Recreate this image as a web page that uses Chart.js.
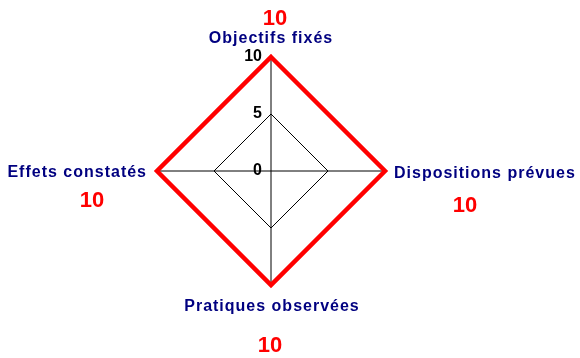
<!DOCTYPE html>
<html>
<head>
<meta charset="utf-8">
<script src="https://cdn.jsdelivr.net/npm/chart.js@4"></script>
<style>
  html, body { margin: 0; padding: 0; background: #fff; }
</style>
</head>
<body>
<canvas id="radar" width="580" height="358"></canvas>
<script>
  const categories = ['Objectifs fixés', 'Dispositions prévues', 'Pratiques observées', 'Effets constatés'];
  const values = [10, 10, 10, 10];
  const tickValues = [0, 5, 10];

  // label / value offsets from each outer vertex
  const labelPos = [
    { dx: 0, dy: -14, align: 'center', vdx: 4, vdy: -32 },
    { dx: 9, dy: 7, align: 'left', vdx: 80, vdy: 41 },
    { dx: 1, dy: 26, align: 'center', vdx: -1, vdy: 67 },
    { dx: -10, dy: 6, align: 'right', vdx: -65, vdy: 36 }
  ];

  const labelsPlugin = {
    id: 'radarLabels',
    afterDraw(chart) {
      const scale = chart.scales.r;
      const ctx = chart.ctx;
      ctx.save();
      // tick labels, left of the vertical axis
      ctx.font = 'bold 16px "Liberation Sans", Arial, sans-serif';
      ctx.fillStyle = '#000';
      ctx.textAlign = 'right';
      ctx.textBaseline = 'middle';
      tickValues.forEach(v => {
        const p = scale.getPointPositionForValue(0, v);
        ctx.fillText(String(v), p.x - 9, p.y);
      });
      ctx.textBaseline = 'alphabetic';
      categories.forEach((name, i) => {
        const p = scale.getPointPositionForValue(i, scale.max);
        const o = labelPos[i];
        ctx.font = 'bold 16px "Liberation Sans", Arial, sans-serif';
        ctx.letterSpacing = '1px';
        ctx.fillStyle = '#000080';
        ctx.textAlign = o.align;
        ctx.fillText(name, p.x + o.dx, p.y + o.dy);
        ctx.letterSpacing = '0px';
        ctx.font = 'bold 22px "Liberation Sans", Arial, sans-serif';
        ctx.fillStyle = '#ff0000';
        ctx.textAlign = 'center';
        ctx.fillText(String(values[i]), p.x + o.vdx, p.y + o.vdy);
      });
      ctx.restore();
    }
  };

  new Chart(document.getElementById('radar'), {
    type: 'radar',
    data: {
      labels: categories,
      datasets: [{
        data: values,
        borderColor: '#ff0000',
        borderWidth: 4.5,
        fill: false,
        pointRadius: 0,
        tension: 0
      }]
    },
    options: {
      responsive: false,
      animation: false,
      layout: { padding: { left: 157, right: 195, top: 57, bottom: 73 } },
      plugins: { legend: { display: false }, tooltip: { enabled: false } },
      scales: {
        r: {
          min: 0,
          max: 10,
          ticks: { stepSize: 5, display: false, showLabelBackdrop: false },
          grid: { color: '#000', lineWidth: 1 },
          angleLines: { color: '#000', lineWidth: 1 },
          pointLabels: { display: false }
        }
      }
    },
    plugins: [labelsPlugin]
  });
</script>
</body>
</html>
